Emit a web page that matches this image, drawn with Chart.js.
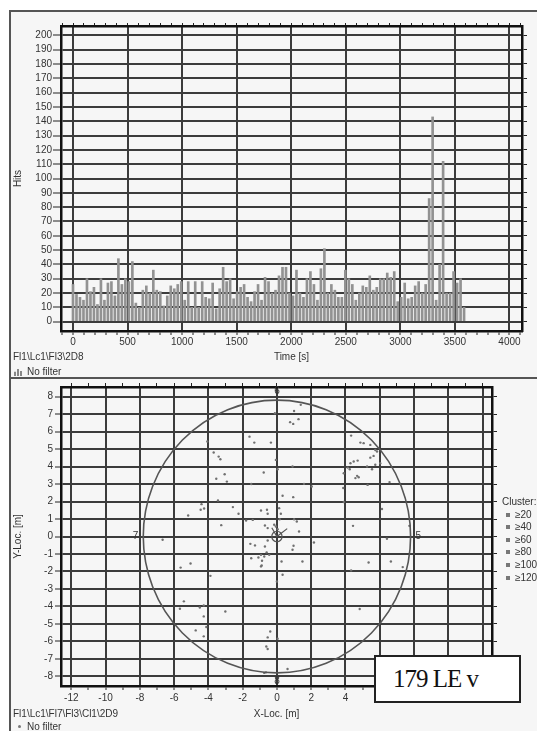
<!DOCTYPE html>
<html>
<head>
<meta charset="utf-8">
<script src="https://cdn.jsdelivr.net/npm/chart.js@4.4.0/dist/chart.umd.min.js"></script>
<style>
  body { margin: 0; background: #fff; font-family: 'Liberation Sans', Arial, sans-serif; }
  #page { position: relative; width: 537px; height: 731px; overflow: hidden; }
  #panel { position: absolute; left: 9px; top: 10px; width: 528px; height: 721px;
           border-top: 2px solid #555; border-left: 2px solid #555; background: #f6f6f6; box-sizing: border-box; }
  #sep { position: absolute; left: 9px; top: 377px; width: 528px; height: 2px; background: #555; }
  canvas { position: absolute; left: 0; }
  #hits { top: 0; }
  #loc { top: 378px; }
  .txt { position: absolute; font-size: 10px; color: #333; white-space: nowrap; z-index: 2; }
  .icon { display: inline-block; width: 8px; height: 7px; margin-right: 5px; vertical-align: -1px;
          background: linear-gradient(90deg, #888 0 2px, transparent 2px 3px, #888 3px 5px, transparent 5px 6px, #888 6px 8px);
          clip-path: polygon(0 40%, 30% 40%, 30% 0, 70% 0, 70% 30%, 100% 30%, 100% 100%, 0 100%); }
  .dot { display: inline-block; width: 3px; height: 3px; border-radius: 50%; background: #777; margin: 0 6px 1px 5px; vertical-align: middle; }
  .sq { display: inline-block; width: 4px; height: 4px; background: #777; margin-right: 5px; vertical-align: 1px; }
  #legend { position: absolute; left: 502px; top: 496px; font-size: 10px; color: #333; line-height: 12.6px;
            z-index: 2; white-space: nowrap; }
  #legend div.it { padding-left: 4px; }
  #tag { position: absolute; left: 374px; top: 655px; width: 147px; height: 48px; box-sizing: border-box;
         border: 2px solid #222; background: #fff; z-index: 3;
         font-family: 'Liberation Serif', 'DejaVu Serif', serif; font-size: 25px; line-height: 44px;
         padding-left: 17px; color: #111; letter-spacing: -1px; }
</style>
</head>
<body>
<div id="page">
  <div id="panel"></div>
  <div id="sep"></div>
  <canvas id="hits" width="537" height="378"></canvas>
  <canvas id="loc" width="537" height="353"></canvas>

  <div class="txt" style="left:13px; top:351px;">Fl1\Lc1\Fl3\2D8</div>
  <div class="txt" style="left:14px; top:366px;"><span class="icon"></span>No filter</div>

  <div class="txt" style="left:13px; top:708px;">Fl1\Lc1\Fl7\Fl3\Cl1\2D9</div>
  <div class="txt" style="left:13px; top:721px;"><span class="dot"></span>No filter</div>

  <div id="legend">
    <div>Cluster:</div>
    <div class="it"><span class="sq"></span>≥20</div>
    <div class="it"><span class="sq"></span>≥40</div>
    <div class="it"><span class="sq"></span>≥60</div>
    <div class="it"><span class="sq"></span>≥80</div>
    <div class="it"><span class="sq"></span>≥100</div>
    <div class="it"><span class="sq"></span>≥120</div>
  </div>

  <div id="tag">179 LE v</div>
</div>

<script>
// --- top panel: hits per time bin ---
const binSeconds = 32;
const hits = [
  26, 19, 17, 15, 30, 21, 24, 12, 30, 15,
  27, 28, 18, 44, 26, 30, 28, 42, 13, 10,
  22, 25, 20, 36, 22, 21, 11, 18, 25, 23,
  26, 28, 15, 28, 10, 28, 10, 28, 17, 16,
  27, 9, 23, 38, 28, 30, 16, 21, 24, 26,
  17, 14, 21, 26, 15, 31, 28, 20, 22, 32,
  38, 38, 20, 18, 36, 20, 17, 30, 35, 26,
  15, 37, 51, 20, 26, 22, 17, 17, 36, 30,
  26, 15, 20, 25, 24, 32, 22, 24, 30, 30,
  34, 31, 35, 14, 17, 27, 16, 17, 25, 28,
  20, 26, 86, 143, 15, 40, 112, 20, 20, 35,
  27, 30, 10
];
const binStart = hits.map((_, i) => i * binSeconds);

// --- bottom panel: located events (m) ---
const locX = [
  -4.06, -3.69, -3.40, -3.30, -3.05, -3.54, -2.92, -3.44, -4.40, -4.45,
  -4.25, -5.18, -2.57, -2.24, -3.25, -6.67, -1.60, -1.32, -1.50, -0.77,
  -1.80, -1.41, -0.93, -0.58, -0.54, -0.70, -0.54, -0.54, -1.55, -1.28,
  -1.50, -1.08, -0.87, -0.60, -0.45, -5.62, -5.04, -3.88, -5.43, -5.66,
  -4.50, -4.27, -4.27, -3.01, -4.12, -4.74, -4.27, -0.64, -0.39, -0.54,
  -0.62, -0.54, -0.89, 1.39, 1.00, 0.77, 0.95, 1.26, -0.12, -0.35,
  -0.06, 0.04, 0.91, 1.58, 2.03, 0.33, 0.95, 0.13, 0.23, 0.16,
  1.00, 1.16, 1.29, -0.16, -0.06, 0.04, -0.70, 0.97, 0.91, 2.16,
  0.27, 1.49, -0.93, -0.74, -0.93, 4.33, 4.87, 5.06, 5.45, 5.74,
  5.84, 5.45, 5.64, 4.29, 4.48, 4.71, 4.13, 4.25, 3.90, 4.68,
  4.77, 4.58, 5.26, 5.55, 5.74, 6.03, 5.29, 6.57, 3.90, 3.87,
  6.13, 4.44, 6.42, 7.73, 6.65, 5.35, 4.33, 7.34, 4.83, 0.33,
  0.00, 0.04, 0.62, -0.74
];
const locY = [
  5.43, 4.80, 4.57, 4.42, 3.56, 3.30, 3.14, 2.06, 1.85, 1.53,
  1.60, 1.20, 1.68, 1.30, 0.65, -0.19, 5.71, 5.37, 3.00, 3.66,
  0.91, 0.95, 1.49, 1.53, 1.30, 0.63, 0.48, -0.23, -0.42, -0.51,
  -1.24, -1.20, -1.39, -0.91, -1.05, -1.78, -1.54, -2.25, -3.71, -4.13,
  -4.06, -3.94, -4.57, -4.29, -5.18, -5.37, -5.71, -7.77, -5.43, -5.77,
  -6.29, -6.43, -1.66, 7.53, 7.18, 6.54, 6.44, 6.71, 7.05, 5.37,
  4.38, 3.85, 4.00, 3.01, 2.86, 2.33, 2.25, 1.62, 1.30, 0.99,
  0.99, 0.86, 0.29, 0.67, 0.57, 0.42, -0.57, -0.53, -0.76, -0.34,
  -1.43, -1.43, -1.05, -1.14, -1.71, 5.77, 5.37, 5.34, 5.24, 4.95,
  4.86, 4.51, 4.61, 4.19, 4.29, 4.34, 3.94, 3.85, 3.62, 3.47,
  3.39, 3.34, 4.00, 3.85, 4.10, 4.19, 2.95, 3.11, 1.97, 2.77,
  1.57, 0.61, -0.13, 0.61, -1.43, -1.49, -1.94, -1.75, -4.15, -2.19,
  -2.57, -5.85, -7.58, -7.80
];
const ringRadius = 7.8;
const hubRadius = 0.3;
const sensorX = [-8.25, 8.25, 0, 0];
const sensorY = [0, 0, 8.3, -8.3];
const sensorLabel = ['7', '5', '6', '8'];

const GRID = '#3c3c3c';
const AXIS = '#111';
const tickFont = { family: "'Liberation Sans', Arial, sans-serif", size: 10 };
const clear = 'rgba(0,0,0,0)';

// Top panel
new Chart(document.getElementById('hits'), {
  type: 'bar',
  data: {
    datasets: [{
      data: binStart.map((t, i) => ({ x: t, y: hits[i] })),
      backgroundColor: '#929292',
      barThickness: 2,
      grouped: false
    }]
  },
  options: {
    responsive: false,
    animation: false,
    devicePixelRatio: 1,
    layout: { padding: 0 },
    plugins: { legend: { display: false }, tooltip: { enabled: false } },
    scales: {
      x: {
        type: 'linear', position: 'bottom', min: -110, max: 4115, offset: false, z: 1,
        ticks: { stepSize: 100, autoSkip: false, maxRotation: 0, includeBounds: false, padding: 1,
                 font: tickFont, color: '#333', callback: v => (v % 500 === 0 ? v : '') },
        grid: { offset: false, lineWidth: 2, tickLength: 4, tickWidth: 1, tickColor: '#222',
                color: c => (c.tick && c.tick.value % 500 === 0 ? GRID : clear) },
        border: { color: AXIS, width: 2.5 },
        title: { display: true, text: 'Time [s]', color: '#333', font: tickFont, padding: { top: 0, bottom: 15 } },
        afterFit: s => { s.height = 47; }
      },
      xTop: {
        type: 'linear', position: 'top', min: -110, max: 4115, offset: false,
        ticks: { display: false, stepSize: 100, includeBounds: false },
        grid: { drawOnChartArea: false, tickLength: 3, tickColor: '#222', offset: false },
        border: { color: AXIS, width: 2.5 },
        afterFit: s => { s.height = 26; }
      },
      y: {
        type: 'linear', position: 'left', min: -6.5, max: 206.5, z: 1,
        ticks: { stepSize: 10, includeBounds: false, padding: 1, font: tickFont, color: '#333' },
        grid: { color: GRID, lineWidth: 2, tickLength: 8, tickWidth: 1, tickColor: '#222' },
        border: { color: AXIS, width: 2.5 },
        title: { display: true, text: 'Hits', color: '#333', font: tickFont, padding: { top: 12, bottom: 0 } },
        afterFit: s => { s.width = 61; }
      },
      yRight: {
        type: 'linear', position: 'right', min: -6.5, max: 206.5,
        ticks: { display: false, stepSize: 10, includeBounds: false },
        grid: { drawOnChartArea: false, tickLength: 5, tickColor: '#222' },
        border: { color: AXIS, width: 2.5 },
        afterFit: s => { s.width = 15; }
      }
    }
  }
});

// ring, hub and sensor marks for the location plot
const ringPlugin = {
  id: 'ring',
  afterDatasetsDraw(chart) {
    const { ctx, scales: { x, y } } = chart;
    const cx = x.getPixelForValue(0), cy = y.getPixelForValue(0);
    const rx = Math.abs(x.getPixelForValue(ringRadius) - cx);
    const ry = Math.abs(y.getPixelForValue(ringRadius) - cy);
    ctx.save();
    ctx.strokeStyle = '#555';
    ctx.lineWidth = 1.6;
    ctx.beginPath();
    ctx.ellipse(cx, cy, rx, ry, 0, 0, Math.PI * 2);
    ctx.stroke();

    const hx = Math.abs(x.getPixelForValue(hubRadius) - cx);
    const hy = Math.abs(y.getPixelForValue(hubRadius) - cy);
    ctx.lineWidth = 1.2;
    ctx.beginPath();
    ctx.ellipse(cx, cy, hx, hy, 0, 0, Math.PI * 2);
    ctx.stroke();
    ctx.beginPath();
    ctx.moveTo(x.getPixelForValue(-0.3), y.getPixelForValue(0.5));
    ctx.lineTo(cx, cy);
    ctx.lineTo(x.getPixelForValue(0.6), y.getPixelForValue(0.45));
    ctx.stroke();

    ctx.fillStyle = '#333';
    ctx.font = "10px 'Liberation Sans', Arial, sans-serif";
    ctx.textAlign = 'center';
    ctx.textBaseline = 'middle';
    sensorLabel.forEach((lab, i) => {
      ctx.fillText(lab, x.getPixelForValue(sensorX[i]), y.getPixelForValue(sensorY[i]));
    });
    ctx.restore();
  }
};

// Bottom panel
new Chart(document.getElementById('loc'), {
  type: 'scatter',
  data: {
    datasets: [{
      data: locX.map((v, i) => ({ x: v, y: locY[i] })),
      backgroundColor: '#707070',
      borderWidth: 0,
      pointRadius: 1.2
    }]
  },
  options: {
    responsive: false,
    animation: false,
    devicePixelRatio: 1,
    layout: { padding: 0 },
    plugins: { legend: { display: false }, tooltip: { enabled: false } },
    scales: {
      x: {
        type: 'linear', position: 'bottom', min: -12.6, max: 12.55, z: 1,
        ticks: { stepSize: 1, autoSkip: false, maxRotation: 0, includeBounds: false, padding: 2,
                 font: tickFont, color: '#333', callback: v => (v % 2 === 0 ? v : '') },
        grid: { lineWidth: 2, tickLength: 4, tickWidth: 1, tickColor: '#222',
                color: c => (c.tick && c.tick.value % 2 === 0 ? GRID : clear) },
        border: { color: AXIS, width: 2.5 },
        title: { display: true, text: 'X-Loc. [m]', color: '#333', font: tickFont, padding: { top: 0, bottom: 11 } },
        afterFit: s => { s.height = 45; }
      },
      xTop: {
        type: 'linear', position: 'top', min: -12.6, max: 12.55,
        ticks: { display: false, stepSize: 1, includeBounds: false },
        grid: { drawOnChartArea: false, tickLength: 4, tickColor: '#222' },
        border: { color: AXIS, width: 2.5 },
        afterFit: s => { s.height = 9; }
      },
      y: {
        type: 'linear', position: 'left', min: -8.55, max: 8.55, z: 1,
        ticks: { stepSize: 1, includeBounds: false, padding: 2, font: tickFont, color: '#333' },
        grid: { color: GRID, lineWidth: 2, tickLength: 6, tickWidth: 1, tickColor: '#222' },
        border: { color: AXIS, width: 2.5 },
        title: { display: true, text: 'Y-Loc. [m]', color: '#333', font: tickFont, padding: { top: 12, bottom: 0 } },
        afterFit: s => { s.width = 61; }
      },
      yRight: {
        type: 'linear', position: 'right', min: -8.55, max: 8.55,
        ticks: { display: false, stepSize: 1, includeBounds: false },
        grid: { drawOnChartArea: false, tickLength: 5, tickColor: '#222' },
        border: { color: AXIS, width: 2.5 },
        afterFit: s => { s.width = 45; }
      }
    }
  },
  plugins: [ringPlugin]
});
</script>
</body>
</html>
